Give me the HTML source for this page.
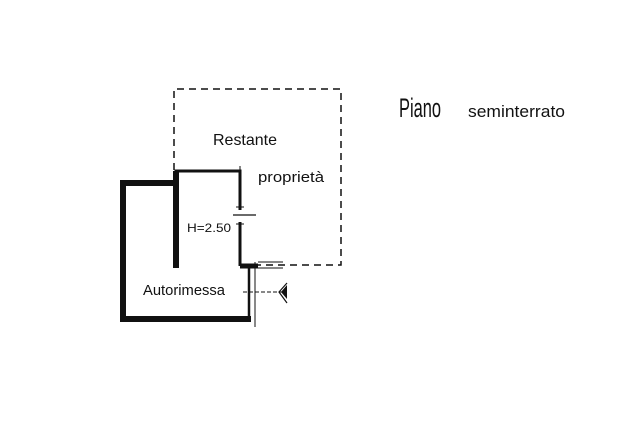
<!DOCTYPE html>
<html><head><meta charset="utf-8"><style>
html,body{margin:0;padding:0;background:#fff;width:618px;height:425px;overflow:hidden}
svg{display:block}
text{font-family:"Liberation Sans",sans-serif;fill:#111}
</style></head><body>
<svg width="618" height="425" viewBox="0 0 618 425" xmlns="http://www.w3.org/2000/svg">
<g stroke="#111" fill="none">
<path d="M174 170 V89 H341 V265 H258" stroke-width="1.5" stroke-dasharray="7,5"/>
<path d="M176 268 V171 H240 V210" stroke-width="3"/>
<line x1="176" y1="171" x2="176" y2="268" stroke-width="6"/>
<line x1="240" y1="222" x2="240" y2="266" stroke-width="3"/>
<line x1="240" y1="166" x2="240" y2="175" stroke-width="1"/>
<line x1="233" y1="215" x2="256" y2="215" stroke-width="1.2"/>
<line x1="236" y1="207" x2="244" y2="207" stroke-width="1"/>
<line x1="236" y1="224" x2="244" y2="224" stroke-width="1"/>
<line x1="240" y1="266" x2="258" y2="266" stroke-width="5"/>
<line x1="258" y1="262" x2="283" y2="262" stroke-width="1"/>
<line x1="258" y1="268" x2="283" y2="268" stroke-width="1"/>
<path d="M178 183 H123 V319 H251" stroke-width="6"/>
<line x1="249" y1="264" x2="249" y2="319" stroke-width="2.5"/>
<line x1="255" y1="262" x2="255" y2="327" stroke-width="1"/>
<line x1="245" y1="266" x2="253" y2="266" stroke-width="1"/>
<line x1="243" y1="292" x2="282" y2="292" stroke-width="1" stroke-dasharray="4,2"/>
<path d="M287 283 L279 292 L287 303" stroke-width="1.2"/>
</g>
<path d="M287 285 L281 292 L287 299 Z" fill="#111"/>
<text x="213" y="145" font-size="16" textLength="64" lengthAdjust="spacingAndGlyphs">Restante</text>
<text x="258" y="182" font-size="15" textLength="66" lengthAdjust="spacingAndGlyphs">proprietà</text>
<text x="187" y="232" font-size="12" textLength="44" lengthAdjust="spacingAndGlyphs">H=2.50</text>
<text x="143" y="295" font-size="15" textLength="82" lengthAdjust="spacingAndGlyphs">Autorimessa</text>
<text x="399" y="117" font-size="27" textLength="42" lengthAdjust="spacingAndGlyphs">Piano</text>
<text x="468" y="117" font-size="17" textLength="97" lengthAdjust="spacingAndGlyphs">seminterrato</text>
</svg>
</body></html>
